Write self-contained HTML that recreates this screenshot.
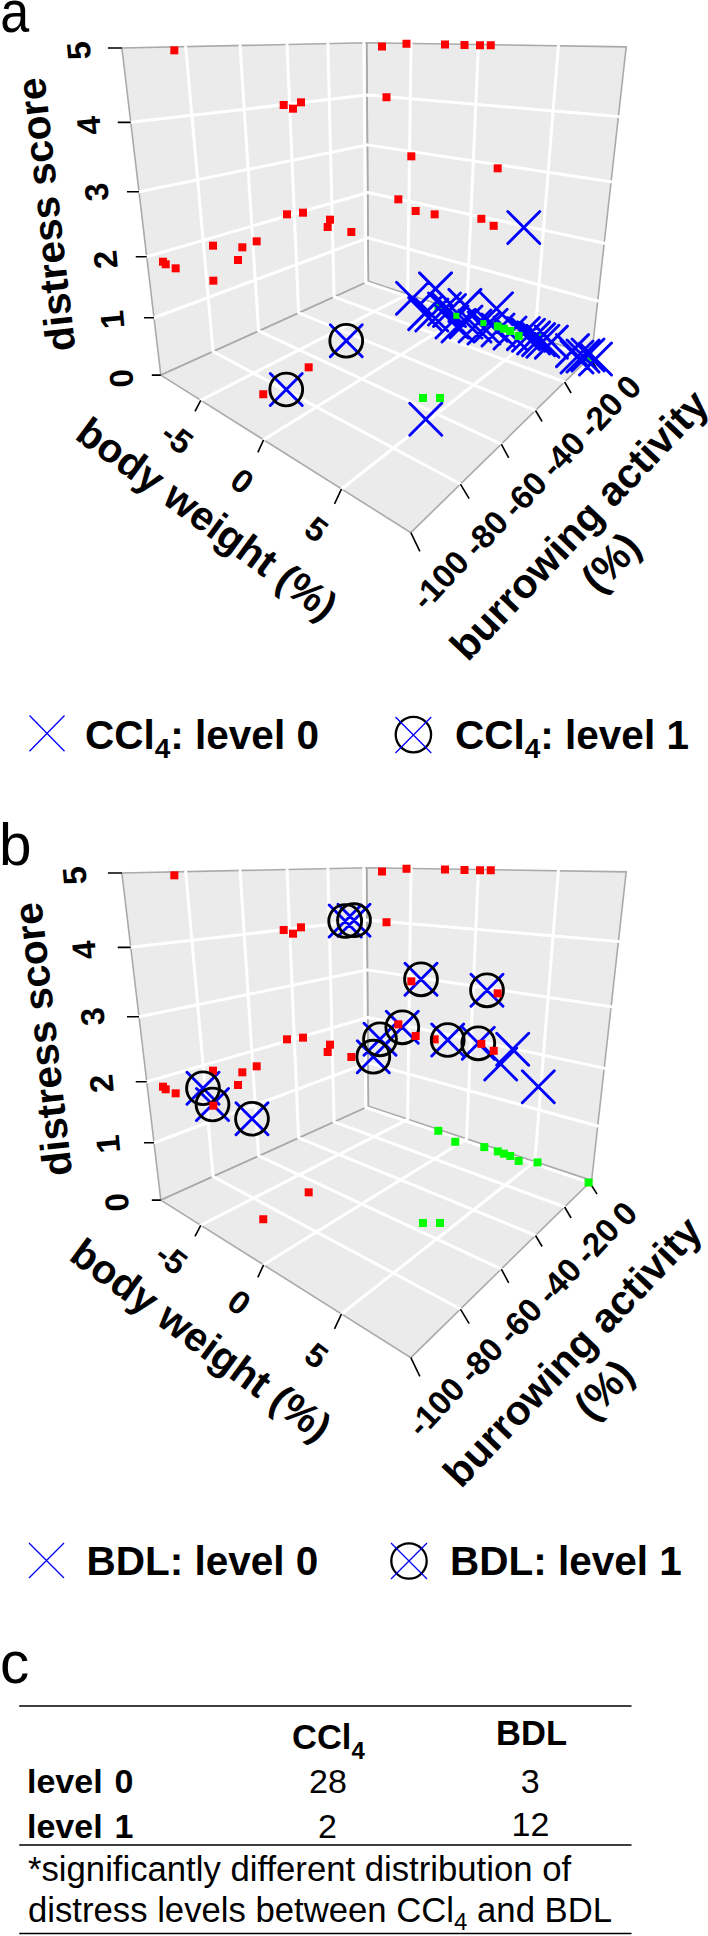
<!DOCTYPE html>
<html><head><meta charset="utf-8"><style>
html,body{margin:0;padding:0;background:#fff;}
svg{display:block;}
text{font-family:"Liberation Sans",sans-serif;fill:#000;}
</style></head><body>
<svg width="708" height="1936" viewBox="0 0 708 1936">
<polygon points="160.82,375.1 368.35,281.36 366.73,42.78 121.9,48.03" fill="#ebebeb" stroke="none"/>
<polygon points="368.35,281.36 591.62,355.54 626.2,46.86 366.73,42.78" fill="#ebebeb" stroke="none"/>
<polygon points="160.82,375.1 410.86,532.64 591.62,355.54 368.35,281.36" fill="#ebebeb" stroke="none"/>
<polygon points="160.82,375.1 368.35,281.36 366.73,42.78 121.9,48.03" fill="none" stroke="#aaaaaa" stroke-width="1.6"/>
<polygon points="368.35,281.36 591.62,355.54 626.2,46.86 366.73,42.78" fill="none" stroke="#aaaaaa" stroke-width="1.6"/>
<polygon points="160.82,375.1 410.86,532.64 591.62,355.54 368.35,281.36" fill="none" stroke="#aaaaaa" stroke-width="1.6"/>
<path d="M213.05,351.51L185.71,46.66 M213.05,351.51L460.46,484.04 M258.58,330.94L240.09,45.5 M258.58,330.94L501.31,444.02 M298.62,312.86L287.01,44.49 M298.62,312.86L535.52,410.5 M334.11,296.83L327.89,43.61 M334.11,296.83L564.6,382.01 M365.78,282.52L363.84,42.84 M365.78,282.52L589.62,357.49 M154,317.77L368.06,237.9 M368.06,237.9L597.73,300.99 M146.74,256.78L367.75,192.46 M367.75,192.46L604.21,243.17 M139.01,191.78L367.43,144.89 M367.43,144.89L611.08,181.78 M130.75,122.35L367.09,95.06 M367.09,95.06L618.4,116.47 M407.67,294.42L411.05,43.48 M200.75,400.26L407.67,294.42 M466.53,313.98L478.47,44.54 M263.59,439.85L466.53,313.98 M534.83,336.67L558.36,45.8 M341.52,488.96L534.83,336.67" stroke="#ffffff" stroke-width="3" stroke-linecap="round" fill="none"/>
<path d="M160.82,375.1l-9,0 M154,317.77l-10,0 M146.74,256.78l-11,0 M139.01,191.78l-12,0 M130.75,122.35l-13,0 M121.9,48.03l-14,0 M200.75,400.26l-5.75,11 M263.59,439.85l-5.75,12.5 M341.52,488.96l-7,15 M410.86,532.64l9,18.7 M460.46,484.04l8.7,14.5 M501.31,444.02l7.4,13.9 M535.52,410.5l6.6,11 M564.6,382.01l6.5,11 M589.62,357.49l7.5,11.6" stroke="#000" stroke-width="1.6" fill="none"/>
<path d="M507.8,211.5l32,32M507.8,243.5l32,-32 M409.75,403.25l32,32M409.75,435.25l32,-32" stroke="#0000ff" stroke-width="2.9" stroke-linecap="round" fill="none"/>
<rect x="434.3" y="301.8" width="8" height="8" fill="#00ff00"/><rect x="533.5" y="333.4" width="8" height="8" fill="#00ff00"/><rect x="584.6" y="353.5" width="8" height="8" fill="#00ff00"/>
<path d="M396.5,282.2l32,32M396.5,314.2l32,-32 M419.5,272.9l32,32M419.5,304.9l32,-32 M448.9,289.4l32,32M448.9,321.4l32,-32 M408.7,297.6l32,32M408.7,329.6l32,-32 M415.8,299l32,32M415.8,331l32,-32 M428.5,293l32,32M428.5,325l32,-32 M433.5,294.5l32,32M433.5,326.5l32,-32 M436,306l32,32M436,338l32,-32 M442,310l32,32M442,342l32,-32 M450,306l32,32M450,338l32,-32 M459,310l32,32M459,342l32,-32 M468,312l32,32M468,344l32,-32 M475.2,309.2l32,32M475.2,341.2l32,-32 M480.5,292.7l32,32M480.5,324.7l32,-32 M482,314l32,32M482,346l32,-32 M494,317l32,32M494,349l32,-32 M507.4,317.6l32,32M507.4,349.6l32,-32 M512.5,319.3l32,32M512.5,351.3l32,-32 M517.6,321.9l32,32M517.6,353.9l32,-32 M522.6,323.6l32,32M522.6,355.6l32,-32 M526.9,325.3l32,32M526.9,357.3l32,-32 M535.4,326.1l32,32M535.4,358.1l32,-32 M556.5,334.6l32,32M556.5,366.6l32,-32 M561,341l32,32M561,373l32,-32 M567,340l32,32M567,372l32,-32 M572,339l32,32M572,371l32,-32 M579.5,343l32,32M579.5,375l32,-32" stroke="#0000ff" stroke-width="2.9" stroke-linecap="round" fill="none"/>
<path d="M270.25,373.5l32,32M270.25,405.5l32,-32 M330.25,324.75l32,32M330.25,356.75l32,-32" stroke="#0000ff" stroke-width="2.9" stroke-linecap="round" fill="none"/>
<circle cx="286.25" cy="389.5" r="16.4" stroke="#000" stroke-width="2.9" fill="none"/><circle cx="346.25" cy="340.75" r="16.4" stroke="#000" stroke-width="2.9" fill="none"/>
<rect x="170.33" y="46.33" width="8" height="8" fill="#ff0000"/><rect x="279.67" y="101" width="8" height="8" fill="#ff0000"/><rect x="289" y="104.67" width="8" height="8" fill="#ff0000"/><rect x="297" y="98.33" width="8" height="8" fill="#ff0000"/><rect x="159" y="257.7" width="8" height="8" fill="#ff0000"/><rect x="161.7" y="260.3" width="8" height="8" fill="#ff0000"/><rect x="171.67" y="264.33" width="8" height="8" fill="#ff0000"/><rect x="209" y="241.67" width="8" height="8" fill="#ff0000"/><rect x="209.33" y="276.67" width="8" height="8" fill="#ff0000"/><rect x="238.33" y="243.33" width="8" height="8" fill="#ff0000"/><rect x="234" y="256" width="8" height="8" fill="#ff0000"/><rect x="252.67" y="237.33" width="8" height="8" fill="#ff0000"/><rect x="283" y="210.33" width="8" height="8" fill="#ff0000"/><rect x="299" y="208.67" width="8" height="8" fill="#ff0000"/><rect x="326" y="215.67" width="8" height="8" fill="#ff0000"/><rect x="323.67" y="223" width="8" height="8" fill="#ff0000"/><rect x="347.33" y="228" width="8" height="8" fill="#ff0000"/><rect x="304.67" y="363.33" width="8" height="8" fill="#ff0000"/><rect x="259.25" y="390.25" width="8" height="8" fill="#ff0000"/><rect x="378" y="42.5" width="8" height="8" fill="#ff0000"/><rect x="402.5" y="39.75" width="8" height="8" fill="#ff0000"/><rect x="441" y="40.5" width="8" height="8" fill="#ff0000"/><rect x="460.5" y="41" width="8" height="8" fill="#ff0000"/><rect x="476" y="41.25" width="8" height="8" fill="#ff0000"/><rect x="486.75" y="41.25" width="8" height="8" fill="#ff0000"/><rect x="382.5" y="93.25" width="8" height="8" fill="#ff0000"/><rect x="407.33" y="152.33" width="8" height="8" fill="#ff0000"/><rect x="493.67" y="164.33" width="8" height="8" fill="#ff0000"/><rect x="394.33" y="195.33" width="8" height="8" fill="#ff0000"/><rect x="411.67" y="207" width="8" height="8" fill="#ff0000"/><rect x="430.67" y="210.33" width="8" height="8" fill="#ff0000"/><rect x="477.33" y="214.83" width="8" height="8" fill="#ff0000"/><rect x="489.67" y="221.83" width="8" height="8" fill="#ff0000"/>
<rect x="493.8" y="322.4" width="8" height="8" fill="#00ff00"/><rect x="499.9" y="324.7" width="8" height="8" fill="#00ff00"/><rect x="506.3" y="327" width="8" height="8" fill="#00ff00"/><rect x="514.7" y="331.9" width="8" height="8" fill="#00ff00"/><rect x="419" y="394" width="8" height="8" fill="#00ff00"/><rect x="436" y="394" width="8" height="8" fill="#00ff00"/>
<rect x="453.3" y="312.8" width="6" height="6" fill="#00ff00"/><rect x="480.3" y="320.1" width="6" height="6" fill="#00ff00"/>
<polygon points="160.82,1200.1 368.35,1106.36 366.73,867.78 121.9,873.03" fill="#ebebeb" stroke="none"/>
<polygon points="368.35,1106.36 591.62,1180.54 626.2,871.86 366.73,867.78" fill="#ebebeb" stroke="none"/>
<polygon points="160.82,1200.1 410.86,1357.64 591.62,1180.54 368.35,1106.36" fill="#ebebeb" stroke="none"/>
<polygon points="160.82,1200.1 368.35,1106.36 366.73,867.78 121.9,873.03" fill="none" stroke="#aaaaaa" stroke-width="1.6"/>
<polygon points="368.35,1106.36 591.62,1180.54 626.2,871.86 366.73,867.78" fill="none" stroke="#aaaaaa" stroke-width="1.6"/>
<polygon points="160.82,1200.1 410.86,1357.64 591.62,1180.54 368.35,1106.36" fill="none" stroke="#aaaaaa" stroke-width="1.6"/>
<path d="M213.05,1176.51L185.71,871.66 M213.05,1176.51L460.46,1309.04 M258.58,1155.94L240.09,870.5 M258.58,1155.94L501.31,1269.02 M298.62,1137.86L287.01,869.49 M298.62,1137.86L535.52,1235.5 M334.11,1121.83L327.89,868.61 M334.11,1121.83L564.6,1207.01 M365.78,1107.52L363.84,867.84 M365.78,1107.52L589.62,1182.49 M154,1142.77L368.06,1062.9 M368.06,1062.9L597.73,1125.99 M146.74,1081.78L367.75,1017.46 M367.75,1017.46L604.21,1068.17 M139.01,1016.78L367.43,969.89 M367.43,969.89L611.08,1006.78 M130.75,947.35L367.09,920.06 M367.09,920.06L618.4,941.47 M407.67,1119.42L411.05,868.48 M200.75,1225.26L407.67,1119.42 M466.53,1138.98L478.47,869.54 M263.59,1264.85L466.53,1138.98 M534.83,1161.67L558.36,870.8 M341.52,1313.96L534.83,1161.67" stroke="#ffffff" stroke-width="3" stroke-linecap="round" fill="none"/>
<path d="M160.82,1200.1l-9,0 M154,1142.77l-10,0 M146.74,1081.78l-11,0 M139.01,1016.78l-12,0 M130.75,947.35l-13,0 M121.9,873.03l-14,0 M200.75,1225.26l-5.75,11 M263.59,1264.85l-5.75,12.5 M341.52,1313.96l-7,15 M410.86,1357.64l9,18.7 M460.46,1309.04l8.7,14.5 M501.31,1269.02l7.4,13.9 M535.52,1235.5l6.6,11 M564.6,1207.01l6.5,11 M589.62,1182.49l7.5,11.6" stroke="#000" stroke-width="1.6" fill="none"/>
<rect x="434.3" y="1126.8" width="8" height="8" fill="#00ff00"/><rect x="451.3" y="1137.8" width="8" height="8" fill="#00ff00"/><rect x="480.3" y="1143.1" width="8" height="8" fill="#00ff00"/><rect x="493.8" y="1147.4" width="8" height="8" fill="#00ff00"/><rect x="499.9" y="1149.7" width="8" height="8" fill="#00ff00"/><rect x="506.3" y="1152" width="8" height="8" fill="#00ff00"/><rect x="514.7" y="1156.9" width="8" height="8" fill="#00ff00"/><rect x="533.5" y="1158.4" width="8" height="8" fill="#00ff00"/><rect x="584.6" y="1178.5" width="8" height="8" fill="#00ff00"/><rect x="419" y="1219" width="8" height="8" fill="#00ff00"/><rect x="436" y="1219" width="8" height="8" fill="#00ff00"/>
<path d="M496.7,1033.3l32,32M496.7,1065.3l32,-32 M484.7,1048l32,32M484.7,1080l32,-32 M522.3,1070.7l32,32M522.3,1102.7l32,-32" stroke="#0000ff" stroke-width="2.9" stroke-linecap="round" fill="none"/>
<path d="M329.2,905l32,32M329.2,937l32,-32 M338,904.2l32,32M338,936.2l32,-32 M405,963.3l32,32M405,995.3l32,-32 M471,974.3l32,32M471,1006.3l32,-32 M386.3,1011.3l32,32M386.3,1043.3l32,-32 M364,1023.3l32,32M364,1055.3l32,-32 M357.3,1040.7l32,32M357.3,1072.7l32,-32 M431.7,1024l32,32M431.7,1056l32,-32 M462.3,1027.3l32,32M462.3,1059.3l32,-32 M187,1072.25l32,32M187,1104.25l32,-32 M196.5,1088.5l32,32M196.5,1120.5l32,-32 M236,1102.75l32,32M236,1134.75l32,-32" stroke="#0000ff" stroke-width="2.9" stroke-linecap="round" fill="none"/>
<rect x="209" y="1066.67" width="8" height="8" fill="#ff0000"/><rect x="430.67" y="1035.33" width="8" height="8" fill="#ff0000"/>
<circle cx="345.2" cy="921" r="16.4" stroke="#000" stroke-width="2.9" fill="none"/><circle cx="354" cy="920.2" r="16.4" stroke="#000" stroke-width="2.9" fill="none"/><circle cx="421" cy="979.3" r="16.4" stroke="#000" stroke-width="2.9" fill="none"/><circle cx="487" cy="990.3" r="16.4" stroke="#000" stroke-width="2.9" fill="none"/><circle cx="402.3" cy="1027.3" r="16.4" stroke="#000" stroke-width="2.9" fill="none"/><circle cx="380" cy="1039.3" r="16.4" stroke="#000" stroke-width="2.9" fill="none"/><circle cx="373.3" cy="1056.7" r="16.4" stroke="#000" stroke-width="2.9" fill="none"/><circle cx="447.7" cy="1040" r="16.4" stroke="#000" stroke-width="2.9" fill="none"/><circle cx="478.3" cy="1043.3" r="16.4" stroke="#000" stroke-width="2.9" fill="none"/><circle cx="203" cy="1088.25" r="16.4" stroke="#000" stroke-width="2.9" fill="none"/><circle cx="212.5" cy="1104.5" r="16.4" stroke="#000" stroke-width="2.9" fill="none"/><circle cx="252" cy="1118.75" r="16.4" stroke="#000" stroke-width="2.9" fill="none"/>
<rect x="170.33" y="871.33" width="8" height="8" fill="#ff0000"/><rect x="279.67" y="926" width="8" height="8" fill="#ff0000"/><rect x="289" y="929.67" width="8" height="8" fill="#ff0000"/><rect x="297" y="923.33" width="8" height="8" fill="#ff0000"/><rect x="159" y="1082.7" width="8" height="8" fill="#ff0000"/><rect x="161.7" y="1085.3" width="8" height="8" fill="#ff0000"/><rect x="171.67" y="1089.33" width="8" height="8" fill="#ff0000"/><rect x="209.33" y="1101.67" width="8" height="8" fill="#ff0000"/><rect x="238.33" y="1068.33" width="8" height="8" fill="#ff0000"/><rect x="234" y="1081" width="8" height="8" fill="#ff0000"/><rect x="252.67" y="1062.33" width="8" height="8" fill="#ff0000"/><rect x="283" y="1035.33" width="8" height="8" fill="#ff0000"/><rect x="299" y="1033.67" width="8" height="8" fill="#ff0000"/><rect x="326" y="1040.67" width="8" height="8" fill="#ff0000"/><rect x="323.67" y="1048" width="8" height="8" fill="#ff0000"/><rect x="347.33" y="1053" width="8" height="8" fill="#ff0000"/><rect x="304.67" y="1188.33" width="8" height="8" fill="#ff0000"/><rect x="259.25" y="1215.25" width="8" height="8" fill="#ff0000"/><rect x="378" y="867.5" width="8" height="8" fill="#ff0000"/><rect x="402.5" y="864.75" width="8" height="8" fill="#ff0000"/><rect x="441" y="865.5" width="8" height="8" fill="#ff0000"/><rect x="460.5" y="866" width="8" height="8" fill="#ff0000"/><rect x="476" y="866.25" width="8" height="8" fill="#ff0000"/><rect x="486.75" y="866.25" width="8" height="8" fill="#ff0000"/><rect x="382.5" y="918.25" width="8" height="8" fill="#ff0000"/><rect x="407.33" y="977.33" width="8" height="8" fill="#ff0000"/><rect x="493.67" y="989.33" width="8" height="8" fill="#ff0000"/><rect x="394.33" y="1020.33" width="8" height="8" fill="#ff0000"/><rect x="411.67" y="1032" width="8" height="8" fill="#ff0000"/><rect x="477.33" y="1039.83" width="8" height="8" fill="#ff0000"/><rect x="489.67" y="1046.83" width="8" height="8" fill="#ff0000"/>
<text x="46" y="214.6" font-size="40.6" font-weight="bold" text-anchor="middle" dominant-baseline="central" transform="rotate(-96.5 46 214.6)">distress score</text>
<text x="78.7" y="50.7" font-size="33" font-weight="bold" text-anchor="middle" dominant-baseline="central" transform="rotate(-95 78.7 50.7)">5</text>
<text x="88.7" y="125.7" font-size="33" font-weight="bold" text-anchor="middle" dominant-baseline="central" transform="rotate(-95 88.7 125.7)">4</text>
<text x="96.5" y="192" font-size="33" font-weight="bold" text-anchor="middle" dominant-baseline="central" transform="rotate(-95 96.5 192)">3</text>
<text x="105.5" y="259.5" font-size="33" font-weight="bold" text-anchor="middle" dominant-baseline="central" transform="rotate(-95 105.5 259.5)">2</text>
<text x="112.2" y="319.7" font-size="33" font-weight="bold" text-anchor="middle" dominant-baseline="central" transform="rotate(-95 112.2 319.7)">1</text>
<text x="121.3" y="378.4" font-size="33" font-weight="bold" text-anchor="middle" dominant-baseline="central" transform="rotate(-95 121.3 378.4)">0</text>
<text x="207.2" y="518.7" font-size="40.6" font-weight="bold" text-anchor="middle" dominant-baseline="central" transform="rotate(36.3 207.2 518.7)">body weight (%)</text>
<text x="177.2" y="438" font-size="33" font-weight="bold" text-anchor="middle" dominant-baseline="central" transform="rotate(37 177.2 438)">-5</text>
<text x="242.3" y="481.1" font-size="33" font-weight="bold" text-anchor="middle" dominant-baseline="central" transform="rotate(37 242.3 481.1)">0</text>
<text x="316.5" y="529.4" font-size="33" font-weight="bold" text-anchor="middle" dominant-baseline="central" transform="rotate(37 316.5 529.4)">5</text>
<text x="579.2" y="525" font-size="41" font-weight="bold" text-anchor="middle" dominant-baseline="central" transform="rotate(-46.5 579.2 525)">burrowing activity</text>
<text x="610.8" y="562.3" font-size="41" font-weight="bold" text-anchor="middle" dominant-baseline="central" transform="rotate(-46.5 610.8 562.3)">(%)</text>
<text x="440.2" y="580" font-size="33" font-weight="bold" text-anchor="middle" dominant-baseline="central" transform="rotate(-47 440.2 580)">-100</text>
<text x="485.7" y="533.4" font-size="33" font-weight="bold" text-anchor="middle" dominant-baseline="central" transform="rotate(-47 485.7 533.4)">-80</text>
<text x="524.3" y="494.5" font-size="33" font-weight="bold" text-anchor="middle" dominant-baseline="central" transform="rotate(-47 524.3 494.5)">-60</text>
<text x="562.5" y="454.5" font-size="33" font-weight="bold" text-anchor="middle" dominant-baseline="central" transform="rotate(-47 562.5 454.5)">-40</text>
<text x="600.7" y="415.1" font-size="33" font-weight="bold" text-anchor="middle" dominant-baseline="central" transform="rotate(-47 600.7 415.1)">-20</text>
<text x="628.5" y="387.1" font-size="33" font-weight="bold" text-anchor="middle" dominant-baseline="central" transform="rotate(-47 628.5 387.1)">0</text>
<text x="42.8" y="1039.4" font-size="40.6" font-weight="bold" text-anchor="middle" dominant-baseline="central" transform="rotate(-96.5 42.8 1039.4)">distress score</text>
<text x="74.6" y="875.7" font-size="33" font-weight="bold" text-anchor="middle" dominant-baseline="central" transform="rotate(-95 74.6 875.7)">5</text>
<text x="84.1" y="950.2" font-size="33" font-weight="bold" text-anchor="middle" dominant-baseline="central" transform="rotate(-95 84.1 950.2)">4</text>
<text x="92.4" y="1016.5" font-size="33" font-weight="bold" text-anchor="middle" dominant-baseline="central" transform="rotate(-95 92.4 1016.5)">3</text>
<text x="101.4" y="1083.5" font-size="33" font-weight="bold" text-anchor="middle" dominant-baseline="central" transform="rotate(-95 101.4 1083.5)">2</text>
<text x="108.1" y="1144.2" font-size="33" font-weight="bold" text-anchor="middle" dominant-baseline="central" transform="rotate(-95 108.1 1144.2)">1</text>
<text x="116.7" y="1202.4" font-size="33" font-weight="bold" text-anchor="middle" dominant-baseline="central" transform="rotate(-95 116.7 1202.4)">0</text>
<text x="201.1" y="1339.8" font-size="40.6" font-weight="bold" text-anchor="middle" dominant-baseline="central" transform="rotate(36.3 201.1 1339.8)">body weight (%)</text>
<text x="171.3" y="1258.6" font-size="33" font-weight="bold" text-anchor="middle" dominant-baseline="central" transform="rotate(37 171.3 1258.6)">-5</text>
<text x="239.3" y="1302.4" font-size="33" font-weight="bold" text-anchor="middle" dominant-baseline="central" transform="rotate(37 239.3 1302.4)">0</text>
<text x="316.5" y="1355.5" font-size="33" font-weight="bold" text-anchor="middle" dominant-baseline="central" transform="rotate(37 316.5 1355.5)">5</text>
<text x="572.5" y="1351.7" font-size="41" font-weight="bold" text-anchor="middle" dominant-baseline="central" transform="rotate(-46.5 572.5 1351.7)">burrowing activity</text>
<text x="603.8" y="1389.5" font-size="41" font-weight="bold" text-anchor="middle" dominant-baseline="central" transform="rotate(-46.5 603.8 1389.5)">(%)</text>
<text x="435.9" y="1406.8" font-size="33" font-weight="bold" text-anchor="middle" dominant-baseline="central" transform="rotate(-47 435.9 1406.8)">-100</text>
<text x="480.7" y="1360.3" font-size="33" font-weight="bold" text-anchor="middle" dominant-baseline="central" transform="rotate(-47 480.7 1360.3)">-80</text>
<text x="519.6" y="1320.9" font-size="33" font-weight="bold" text-anchor="middle" dominant-baseline="central" transform="rotate(-47 519.6 1320.9)">-60</text>
<text x="558.9" y="1281" font-size="33" font-weight="bold" text-anchor="middle" dominant-baseline="central" transform="rotate(-47 558.9 1281)">-40</text>
<text x="596.8" y="1241.1" font-size="33" font-weight="bold" text-anchor="middle" dominant-baseline="central" transform="rotate(-47 596.8 1241.1)">-20</text>
<text x="624.6" y="1213.8" font-size="33" font-weight="bold" text-anchor="middle" dominant-baseline="central" transform="rotate(-47 624.6 1213.8)">0</text>
<text transform="translate(0.3,31.6) scale(0.89,1)" font-size="58.5" font-weight="normal">a</text>
<text x="-1" y="864.7" font-size="58.5" font-weight="normal">b</text>
<text x="0" y="1683" font-size="58.5" font-weight="normal">c</text>
<!-- legend a -->
<path d="M29.5,715.5L64.5,751.25M29.5,751.25L64.5,715.5" stroke="#0000ff" stroke-width="1.3" fill="none"/>
<text x="85" y="748.75" font-size="40.5" font-weight="bold">CCl<tspan font-size="28" dy="8.8">4</tspan><tspan dy="-8.8">: level 0</tspan></text>
<circle cx="413.4" cy="734.6" r="17.7" stroke="#000" stroke-width="2.3" fill="none"/>
<path d="M395.5,717L431.25,753M395.5,753L431.25,717" stroke="#0000ff" stroke-width="1.3" fill="none"/>
<text x="455" y="748.75" font-size="40.5" font-weight="bold">CCl<tspan font-size="28" dy="8.8">4</tspan><tspan dy="-8.8">: level 1</tspan></text>
<!-- legend b -->
<path d="M29,1543L64,1578M29,1578L64,1543" stroke="#0000ff" stroke-width="1.3" fill="none"/>
<text x="86.5" y="1575" font-size="40.5" font-weight="bold">BDL: level 0</text>
<circle cx="409" cy="1561" r="17.7" stroke="#000" stroke-width="2.3" fill="none"/>
<path d="M391,1543L427,1579M391,1579L427,1543" stroke="#0000ff" stroke-width="1.3" fill="none"/>
<text x="450" y="1575" font-size="40.5" font-weight="bold">BDL: level 1</text>
<!-- table -->
<path d="M19.2,1706H631.5M19.2,1845H631.5M19.2,1933.5H631.5" stroke="#000" stroke-width="1.5" fill="none"/>
<text x="292" y="1749" font-size="34.5" font-weight="bold">CCl<tspan font-size="24" dy="10.3">4</tspan></text>
<text x="531.5" y="1745" font-size="34.5" font-weight="bold" text-anchor="middle">BDL</text>
<text x="27" y="1793" font-size="34" font-weight="bold">level</text><text x="114.5" y="1793" font-size="34" font-weight="bold">0</text>
<text x="27" y="1837.5" font-size="34" font-weight="bold">level</text><text x="114.5" y="1837.5" font-size="34" font-weight="bold">1</text>
<text x="328" y="1793" font-size="34" text-anchor="middle">28</text>
<text x="327.5" y="1837.5" font-size="34" text-anchor="middle">2</text>
<text x="530.3" y="1792.5" font-size="34" text-anchor="middle">3</text>
<text x="530.5" y="1836.3" font-size="34" text-anchor="middle">12</text>
<text x="28" y="1880.7" font-size="34.7">*significantly different distribution of</text>
<text x="28" y="1922.3" font-size="34.7">distress levels between CCl<tspan font-size="24" dy="8">4</tspan><tspan dy="-8"> and BDL</tspan></text>


</svg>
</body></html>
